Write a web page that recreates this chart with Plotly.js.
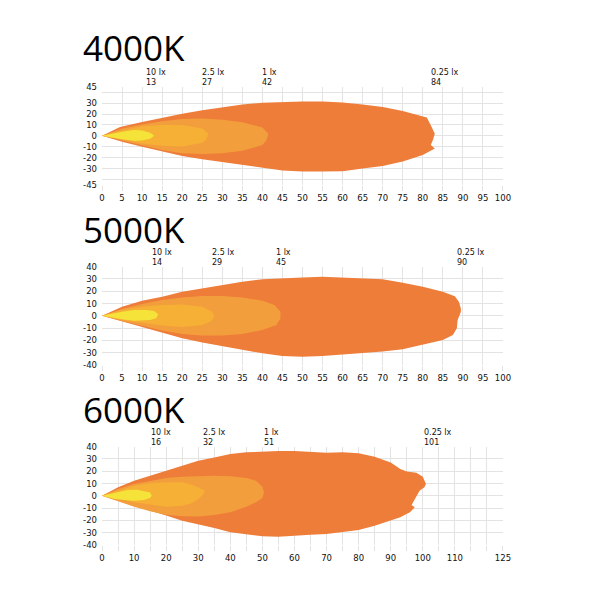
<!DOCTYPE html>
<html>
<head>
<meta charset="utf-8">
<script src="https://cdn.plot.ly/plotly-3.0.1.min.js"></script>
<style>html,body{margin:0;padding:0;background:#fff;}#chart{width:600px;height:600px;}</style>
</head>
<body>
<div id="chart"></div>
<script>
// ---------- DATA ----------
var panelTitles = ["4000K", "5000K", "6000K"];
var luxLabels = ["10 lx", "2.5 lx", "1 lx", "0.25 lx"];
var reach4000 = [13, 27, 42, 84];
var reach5000 = [14, 29, 45, 90];
var reach6000 = [16, 32, 51, 101];

// 4000K contours (distance m, width m)
var k4_x025 = [0,4.5,10,15,20,25,30,35,40,45,50,55,60,65,70,75,80,81,82,83,82.5,82,83,81.5,80,75,70,65,60,55,50,45,40,35,30,25,20,15,10,5,0];
var k4_y025 = [0,8.2,12.7,16.7,20.3,23.5,26.3,28.6,30.3,31,31.5,31.5,30.6,28.8,26.4,22.7,17.9,16.7,9.7,2,-4,-8.5,-11.5,-14.5,-17.6,-23.6,-27.6,-30,-32.4,-32.7,-32.7,-31.8,-29.3,-26.7,-24.2,-21.5,-18.5,-14.5,-10,-5.5,0];
var k4_x1 = [0,5,10,15,20,25,30,35,40,41.5,41,40,35,30,25,20,15,10,5,0];
var k4_y1 = [0,6.7,10.3,13.3,15.5,15.8,14.8,12.4,7.6,2,-4,-8.5,-13.6,-16,-16.7,-16,-13,-8.5,-4,0];
var k4_x25 = [0,5,10,15,20,25,26.5,26,25,20,15,10,5,0];
var k4_y25 = [0,5,8.8,10,10,6.7,2,-3.3,-6.4,-9.8,-9,-7,-3.3,0];
var k4_x10 = [0,5,8,10,12,13,12,10,8,5,0];
var k4_y10 = [0,3.8,5.3,4.8,2.9,0,-2.7,-4.2,-4.4,-3.2,0];

// 5000K contours
var k5_x025 = [0,5,10,15,20,25,30,35,40,45,50,55,60,65,70,75,80,85,88,89,89.5,89.5,88.7,88.5,87.5,85,80,75,70,65,60,55,50,45,40,35,30,25,20,15,10,5,0];
var k5_y025 = [0,7.5,12.3,15.6,19.6,22.4,25,27.8,29.7,30.8,31.3,31.8,31.3,30.8,29.7,27,23.7,19.6,16,11.5,6,3.4,-3.4,-10,-15.6,-19.6,-23.7,-27.2,-29.1,-30.5,-31.8,-32.7,-33.2,-32.7,-30.5,-27.8,-25,-21.8,-18.3,-13.7,-9.3,-4.7,0];
var k5_x1 = [0,5,10,15,20,25,30,35,40,43,44.5,44.5,43.5,40,35,30,25,20,15,10,5,0];
var k5_y1 = [0,5.5,9.6,12.9,15,16.1,16.1,15,12.3,8.8,3.4,-2,-7.5,-11.5,-14.8,-16.1,-16.1,-14.8,-12,-8.3,-4.2,0];
var k5_x25 = [0,5,10,15,20,25,27.5,28,27,25,20,15,10,5,0];
var k5_y25 = [0,4.7,7.5,8.8,9.3,7.5,3.4,-0.7,-4.7,-7.5,-9,-7.9,-5.6,-3.4,0];
var k5_x10 = [0,5,8,11,13,14,13.5,12,8,5,0];
var k5_y10 = [0,3.4,4.7,4.7,3.9,1.2,-2,-3.4,-3.9,-2.8,0];

// 6000K contours
var k6_x025 = [0,5,10,15,20,25,30,35,40,45,50,55,60,65,70,75,80,85,90,93,95,98,100,101,100.5,99,97.5,96.5,97.5,96,93,90,85,80,75,70,65,60,55,50,45,40,35,30,25,20,15,10,5,0];
var k6_y025 = [0,6.9,12.3,16.4,20.5,24.5,28.6,31.3,34,35.4,36.2,36.4,36.4,35.9,35.1,35.4,34.6,31.8,27.2,21.8,19.9,18.8,15.6,9.6,6.9,4.2,-2.6,-7.5,-9.3,-13.4,-17.5,-20.2,-24.3,-27.8,-29.7,-31,-31.6,-32.4,-33.2,-32.9,-31.6,-29.7,-26.2,-22.9,-20.2,-16.1,-12.1,-8,-3.9,0];
var k6_x1 = [0,5,10,15,20,25,30,35,40,45,48,50,50.5,50,48,45,40,35,30,25,20,15,10,5,0];
var k6_y1 = [0,5.6,9.6,12.3,14.5,15.6,16.1,16.4,15.9,14.5,12.3,7.5,2.8,-1.8,-5.3,-8.8,-13.4,-15.6,-16.9,-16.7,-15.3,-12.6,-8.8,-4.5,0];
var k6_x25 = [0,5,10,15,20,25,28,30,32,31.5,30,28,25,20,15,10,5,0];
var k6_y25 = [0,4.2,8.3,10.2,11,11,9.1,6.9,4.2,0.9,-2.6,-6.1,-8,-8.8,-7.2,-5.3,-2.6,0];
var k6_x10 = [0,4,8,11,13.5,15,15.5,15,13,10,7,4,0];
var k6_y10 = [0,2.5,4.7,5,3.7,2.8,0.1,-1.8,-3.4,-3.9,-3.4,-2.6,0];

// tick labels
var xTicks12 = [0,5,10,15,20,25,30,35,40,45,50,55,60,65,70,75,80,85,90,95,100];
var xTicks3 = [0,10,20,30,40,50,60,70,80,90,100,110,125];
var yTicks1 = [45,30,20,10,0,-10,-20,-30,-45];
var yTicks23 = [40,30,20,10,0,-10,-20,-30,-40];

// ---------- STYLE ----------
var zoneColors = ["#EE7D3A", "#F39E3C", "#F6B035", "#F6E33A"];
var gridCol = "#e3e3e3";
var tickFont = {family: "DejaVu Sans", size: 8.5, color: "#111"};

var panels = [
  {sets: [[k4_x025,k4_y025],[k4_x1,k4_y1],[k4_x25,k4_y25],[k4_x10,k4_y10]], reach: reach4000, xr: [0,100], yr: [-45,45], xt: xTicks12, yt: yTicks1, dom: [0.6917, 0.8555], shift: -10},
  {sets: [[k5_x025,k5_y025],[k5_x1,k5_y1],[k5_x25,k5_y25],[k5_x10,k5_y10]], reach: reach5000, xr: [0,100], yr: [-40,40], xt: xTicks12, yt: yTicks23, dom: [0.3917, 0.5555], shift: -8},
  {sets: [[k6_x025,k6_y025],[k6_x1,k6_y1],[k6_x25,k6_y25],[k6_x10,k6_y10]], reach: reach6000, xr: [0,125], yr: [-40,40], xt: xTicks3, yt: yTicks23, dom: [0.0917, 0.2555], shift: -4}
];
var titleY = [0.92, 0.6167, 0.3167];

var traces = [];
var layout = {
  width: 600, height: 600,
  margin: {l: 0, r: 0, t: 0, b: 0},
  paper_bgcolor: "#fff", plot_bgcolor: "#fff",
  showlegend: false,
  annotations: []
};

panels.forEach(function(p, i) {
  var sfx = i === 0 ? "" : String(i + 1);
  p.sets.forEach(function(s, j) {
    traces.push({
      type: "scatter", mode: "lines", x: s[0], y: s[1],
      xaxis: "x" + sfx, yaxis: "y" + sfx,
      fill: "toself", fillcolor: zoneColors[j],
      line: {width: 0, color: zoneColors[j]},
      hoverinfo: "skip"
    });
  });
  layout["xaxis" + sfx] = {
    domain: [0.17, 0.8383], anchor: "y" + sfx, range: p.xr,
    tickmode: "array", tickvals: p.xt, ticktext: p.xt.map(String),
    showgrid: true, gridcolor: gridCol, gridwidth: 1, zeroline: false, showline: false,
    ticks: "outside", ticklen: 5, tickcolor: gridCol, tickfont: tickFont,
    minor: {tickmode: "linear", tick0: 0, dtick: 5, showgrid: true, gridcolor: gridCol, gridwidth: 1, ticks: "outside", ticklen: 5, tickcolor: gridCol},
    fixedrange: true
  };
  layout["yaxis" + sfx] = {
    domain: p.dom, anchor: "x" + sfx, range: p.yr,
    tickmode: "array", tickvals: p.yt, ticktext: p.yt.map(String),
    showgrid: true, gridcolor: gridCol, gridwidth: 1, zeroline: false, showline: false,
    ticks: "", tickfont: tickFont, ticklabelstandoff: 4,
    minor: {tickmode: "linear", tick0: 0, dtick: 10, showgrid: true, gridcolor: gridCol, gridwidth: 1, ticks: ""},
    fixedrange: true
  };
  layout.annotations.push({
    text: panelTitles[i], xref: "paper", yref: "paper", x: 0.135, y: titleY[i],
    xanchor: "left", yanchor: "middle", showarrow: false,
    font: {family: "Open Sans", size: 35, color: "#000"}
  });
  p.reach.forEach(function(r, k) {
    layout.annotations.push({
      text: luxLabels[k] + "<br>" + String(r), align: "left",
      xref: "x" + sfx, yref: "y" + sfx + " domain", x: r, y: 1.09,
      xanchor: "left", yanchor: "middle", xshift: p.shift, showarrow: false,
      font: {family: "DejaVu Sans", size: 8, color: "#111"}
    });
  });
});

Plotly.newPlot("chart", traces, layout, {displayModeBar: false, staticPlot: true});
</script>
</body>
</html>
